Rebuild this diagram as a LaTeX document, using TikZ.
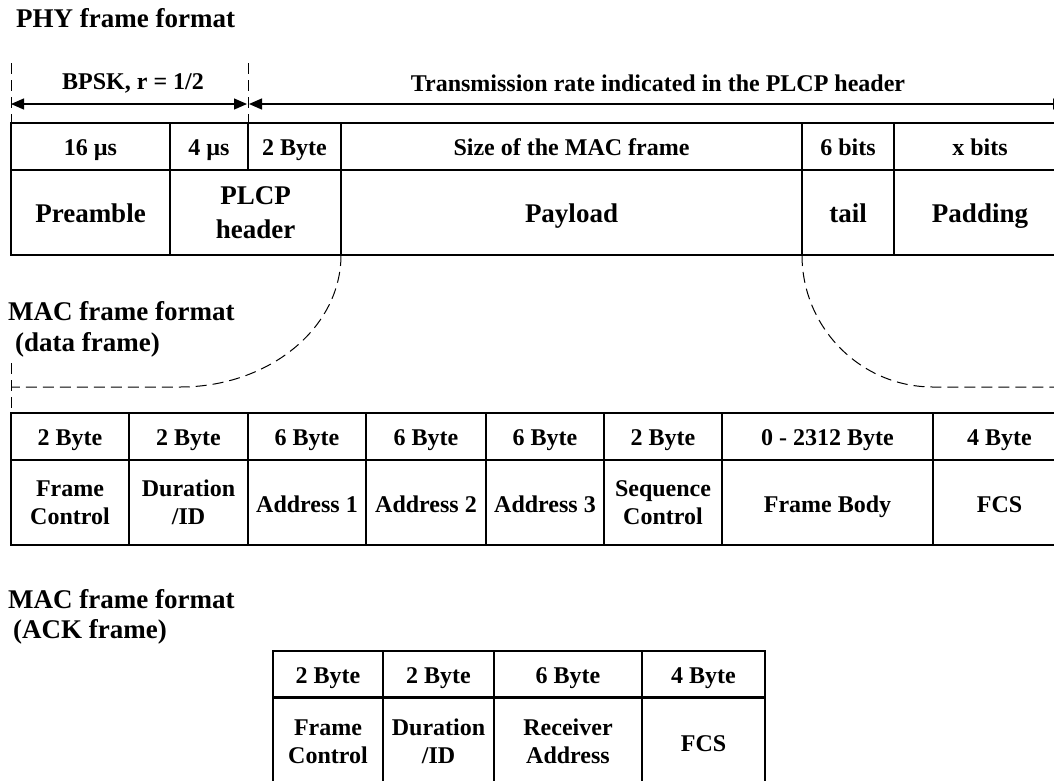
\documentclass[tikz,border=0pt]{standalone}
\usepackage{fontspec}
\setmainfont{Liberation Serif}
\usetikzlibrary{arrows.meta}
\begin{document}
\begin{tikzpicture}[x=1pt,y=-1pt,
  cell/.style={draw, line width=1.5pt, rectangle, inner sep=0pt, outer sep=0pt,
               anchor=north west, align=center},
  hdr/.style={cell, minimum height=47pt, text height=22pt, text depth=5pt,
              font=\bfseries\fontsize{24}{28}\selectfont},
  phybody/.style={cell, minimum height=85pt, font=\bfseries\fontsize{27}{34}\selectfont},
  macbody/.style={cell, minimum height=85pt, font=\bfseries\fontsize{24}{28}\selectfont},
  ackbody/.style={cell, minimum height=89pt, font=\bfseries\fontsize{24}{28}\selectfont},
  oneline/.style={text height=21pt, text depth=1pt},
  title/.style={inner sep=0pt, anchor=base west, font=\bfseries\fontsize{27}{31}\selectfont},
  dimtext/.style={inner sep=0pt, anchor=base, font=\bfseries\fontsize{24}{28}\selectfont},
  dimarrow/.style={line width=1.3pt, {Triangle[length=13pt,width=11pt]}-{Triangle[length=13pt,width=11pt]}},
  guide/.style={line width=1pt, dash pattern=on 11pt off 6pt},
]
\useasboundingbox (0,0) rectangle (1054,780);
\clip (0,0) rectangle (1054,780);

% ---------- PHY frame ----------
\node[title] (phytitle) at (16,27) {PHY frame format};

\coordinate (g1top) at (11,63);
\coordinate (g2top) at (248,63);
\coordinate (a1l) at (11,104);
\coordinate (a1r) at (247,104);
\coordinate (a2l) at (249,104);
\coordinate (a2r) at (1066,104);

\node[dimtext] (bpsk) at (133,89) {BPSK, r = 1/2};
\node[dimtext] (rate) at (658,91) {Transmission rate indicated in the PLCP header};
\draw[dimarrow] (a1l) -- (a1r);
\draw[dimarrow] (a2l) -- (a2r);

\node[hdr, minimum width=159pt] (p16)   at (11,123)  {16 µs};
\node[hdr, minimum width=78pt]  (p4)    at (170,123) {4 µs};
\node[hdr, minimum width=93pt]  (p2b)   at (248,123) {2 Byte};
\node[hdr, minimum width=461pt] (psize) at (341,123) {Size of the MAC frame};
\node[hdr, minimum width=92pt]  (p6b)   at (802,123) {6 bits};
\node[hdr, minimum width=172pt] (pxb)   at (894,123) {x bits};

\node[phybody, oneline, minimum width=159pt] (pre)  at (11,170)  {Preamble};
\node[phybody, minimum width=171pt]          (plcp) at (170,170) {PLCP\\header};
\node[phybody, oneline, minimum width=461pt] (pay)  at (341,170) {Payload};
\node[phybody, oneline, minimum width=92pt]  (tail) at (802,170) {tail};
\node[phybody, oneline, minimum width=172pt] (pad)  at (894,170) {Padding};

\draw[guide] (g1top) -- (p16.north west);
\draw[guide] (g2top) -- (p2b.north west);

% ---------- MAC data frame ----------
\node[title] (mactitle) at (8,320) {MAC frame format};
\node[title] (macsub) at (15,351) {(data frame)};

\coordinate (lbend) at (180,387);
\coordinate (lend) at (11,387);
\coordinate (rbend) at (933,387);
\coordinate (rend) at (1066,387);
\coordinate (g3top) at (11,363);

\node[hdr, minimum width=118pt] (m1) at (11,413)  {2 Byte};
\node[hdr, minimum width=119pt] (m2) at (129,413) {2 Byte};
\node[hdr, minimum width=118pt] (m3) at (248,413) {6 Byte};
\node[hdr, minimum width=120pt] (m4) at (366,413) {6 Byte};
\node[hdr, minimum width=118pt] (m5) at (486,413) {6 Byte};
\node[hdr, minimum width=118pt] (m6) at (604,413) {2 Byte};
\node[hdr, minimum width=211pt] (m7) at (722,413) {0 - 2312 Byte};
\node[hdr, minimum width=133pt] (m8) at (933,413) {4 Byte};

\node[macbody, minimum width=118pt]          (fc)   at (11,460)  {Frame\\Control};
\node[macbody, minimum width=119pt]          (dur)  at (129,460) {Duration\\/ID};
\node[macbody, oneline, minimum width=118pt] (ad1)  at (248,460) {Address 1};
\node[macbody, oneline, minimum width=120pt] (ad2)  at (366,460) {Address 2};
\node[macbody, oneline, minimum width=118pt] (ad3)  at (486,460) {Address 3};
\node[macbody, minimum width=118pt]          (seq)  at (604,460) {Sequence\\Control};
\node[macbody, oneline, minimum width=211pt] (body) at (722,460) {Frame Body};
\node[macbody, oneline, minimum width=133pt] (fcs)  at (933,460) {FCS};

\draw[guide] (pay.south west) .. controls +(0,73) and +(89,0) .. (lbend) -- (lend);
\draw[guide] (pay.south east) .. controls +(0,73) and +(-72,0) .. (rbend) -- (rend);
\draw[guide] (g3top) -- (m1.north west);

% ---------- MAC ACK frame ----------
\node[title] (acktitle) at (8,608) {MAC frame format};
\node[title] (acksub) at (13,638) {(ACK frame)};

\node[hdr, minimum width=110pt] (k1) at (273,651) {2 Byte};
\node[hdr, minimum width=111pt] (k2) at (383,651) {2 Byte};
\node[hdr, minimum width=148pt] (k3) at (494,651) {6 Byte};
\node[hdr, minimum width=123pt] (k4) at (642,651) {4 Byte};

\node[ackbody, minimum width=110pt]          (kfc)  at (273,697) {Frame\\Control};
\node[ackbody, minimum width=111pt]          (kdur) at (383,697) {Duration\\/ID};
\node[ackbody, minimum width=148pt]          (kra)  at (494,697) {Receiver\\Address};
\node[ackbody, oneline, minimum width=123pt] (kfcs) at (642,697) {FCS};
\end{tikzpicture}
\end{document}
